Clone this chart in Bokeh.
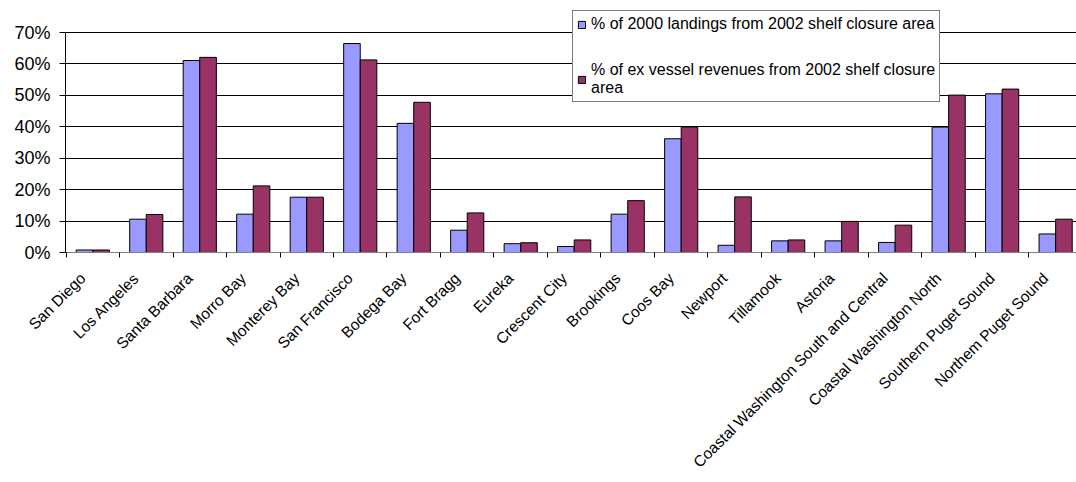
import math

from bokeh.embed import file_html
from bokeh.models import ColumnDataSource, FixedTicker, Legend, LegendItem, Range1d
from bokeh.plotting import figure
from bokeh.resources import INLINE
from bokeh.transform import dodge

# Ports along the West Coast, south to north
ports = [
    "San Diego", "Los Angeles", "Santa Barbara", "Morro Bay", "Monterey Bay",
    "San Francisco", "Bodega Bay", "Fort Bragg", "Eureka", "Crescent City",
    "Brookings", "Coos Bay", "Newport", "Tillamook", "Astoria",
    "Coastal Washington South and Central", "Coastal Washington North",
    "Southern Puget Sound", "Northem Puget Sound",
]

# Share (%) of 2000 landings taken from the 2002 shelf closure area
landings_pct = [0.8, 10.6, 61.1, 12.2, 17.6, 66.5, 41.1, 7.1, 2.8, 1.9,
                12.2, 36.2, 2.3, 3.7, 3.7, 3.2, 39.9, 50.5, 5.9]
# Share (%) of ex-vessel revenues from the 2002 shelf closure area
revenue_pct = [0.8, 12.1, 62.1, 21.2, 17.6, 61.3, 47.8, 12.6, 3.1, 4.0,
               16.5, 39.9, 17.7, 4.0, 9.9, 8.7, 50.1, 52.0, 10.6]

y_ticks = [0, 10, 20, 30, 40, 50, 60, 70]
y_tick_labels = ["0%", "10%", "20%", "30%", "40%", "50%", "60%", "70%"]

legend_labels = [
    "% of 2000 landings from 2002 shelf closure area",
    "% of ex vessel revenues from 2002 shelf closure\narea",
]

FONT = "Liberation Sans"
BLUE = "#9999FF"
PLUM = "#993366"

centers = [i + 0.5 for i in range(len(ports))]
source = ColumnDataSource(dict(x=centers, port=ports,
                               landings=landings_pct, revenue=revenue_pct))

p = figure(
    width=1076, height=482,
    output_backend="svg", toolbar_location=None,
    x_range=Range1d(-0.01, 18.89), y_range=Range1d(0, 80.2),
    min_border_left=65, min_border_right=0,
    min_border_top=0, min_border_bottom=230,
)
p.outline_line_color = None
p.background_fill_color = "white"
p.border_fill_color = "white"

bar_w = 0.31
r1 = p.vbar(x=dodge("x", -bar_w / 2, range=p.x_range), top="landings", width=bar_w,
            bottom=0, source=source, fill_color=BLUE, line_color="black", line_width=1)
r2 = p.vbar(x=dodge("x", bar_w / 2, range=p.x_range), top="revenue", width=bar_w,
            bottom=0, source=source, fill_color=PLUM, line_color="black", line_width=1)

# y axis: percentages with horizontal grid lines, axis line stops at 70%
p.yaxis.ticker = FixedTicker(ticks=y_ticks)
p.yaxis.bounds = (y_ticks[0], y_ticks[-1])
p.yaxis.major_label_overrides = {t: lab for t, lab in zip(y_ticks, y_tick_labels)}
p.yaxis.major_label_text_font = FONT
p.yaxis.major_label_text_font_size = "18px"
p.yaxis.major_label_text_color = "black"
p.yaxis.major_label_standoff = 9
p.yaxis.axis_line_color = "black"
p.yaxis.major_tick_line_color = "black"
p.yaxis.major_tick_out = 6
p.yaxis.major_tick_in = 0
p.yaxis.minor_tick_line_color = None
p.ygrid.grid_line_color = "black"
p.ygrid.grid_line_width = 1
p.xgrid.grid_line_color = None

# x axis: slanted port names hanging under each pair, tick marks between pairs
label_pos = [c - 0.19 for c in centers]
p.xaxis.ticker = FixedTicker(ticks=label_pos, minor_ticks=list(range(len(ports) + 1)))
p.xaxis.major_label_overrides = {c: name for c, name in zip(label_pos, ports)}
p.xaxis.major_label_orientation = math.pi / 4
p.xaxis.major_label_text_font = FONT
p.xaxis.major_label_text_font_size = "15.5px"
p.xaxis.major_label_text_color = "black"
p.xaxis.major_label_standoff = 18
p.xaxis.major_tick_out = 0
p.xaxis.major_tick_in = 0
p.xaxis.minor_tick_out = 5
p.xaxis.minor_tick_in = 0
p.xaxis.minor_tick_line_color = "black"
p.xaxis.axis_line_color = "#808080"

legend = Legend(
    items=[LegendItem(label=legend_labels[0], renderers=[r1]),
           LegendItem(label=legend_labels[1], renderers=[r2])],
    location=(507, 150),
    label_text_font=FONT, label_text_font_size="16px", label_text_color="black",
    glyph_width=9, glyph_height=9, label_standoff=5,
    spacing=28, padding=4, margin=0,
    border_line_color="black", border_line_width=1,
    background_fill_color="white", background_fill_alpha=1.0,
)
p.add_layout(legend)

open("out.html", "w").write(file_html(p, INLINE))
